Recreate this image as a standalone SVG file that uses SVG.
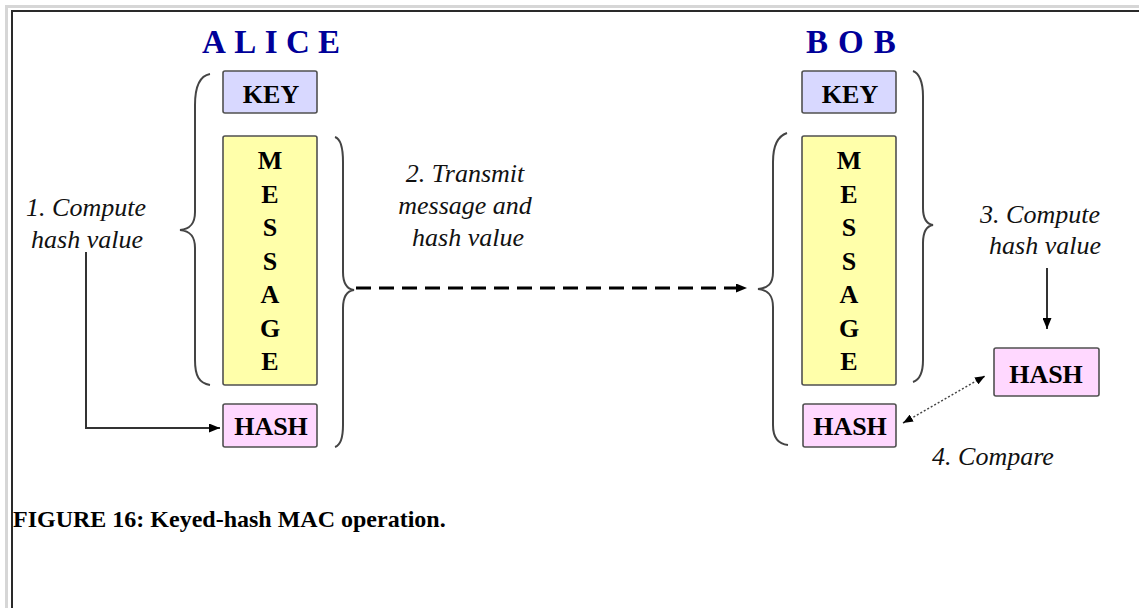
<svg xmlns="http://www.w3.org/2000/svg" width="1139" height="608" viewBox="0 0 1139 608">
<style>
.box{stroke:#505050;stroke-width:1.6}
.key{fill:#d8d8ff}
.msg{fill:#ffffaa}
.hash{fill:#ffd8ff}
.lbl{font-family:"Liberation Serif","Times New Roman",serif;font-weight:bold;font-size:26px;fill:#000;text-anchor:middle}
.it{font-family:"Liberation Serif","Times New Roman",serif;font-style:italic;font-size:26px;fill:#111;text-anchor:middle}
.who{font-family:"Liberation Serif","Times New Roman",serif;font-weight:bold;font-size:33px;fill:#000099}
.brace{fill:none;stroke:#444;stroke-width:2}
.conn{fill:none;stroke:#333;stroke-width:2}
</style>
<defs>
<marker id="ah" markerUnits="userSpaceOnUse" markerWidth="11" markerHeight="9" refX="11" refY="4.5" orient="auto-start-reverse" viewBox="0 0 11 9">
<path d="M0,0 L11,4.5 L0,9 z" fill="#000"/>
</marker>
<marker id="ahs" markerUnits="userSpaceOnUse" markerWidth="10" markerHeight="8" refX="10" refY="4" orient="auto-start-reverse" viewBox="0 0 10 8">
<path d="M0,0 L10,4 L0,8 z" fill="#000"/>
</marker>
</defs>
<rect width="1139" height="608" fill="#fff"/>
<g id="frame">
<path d="M6.5,608 V6.5 H1139" fill="none" stroke="#d6d6d6" stroke-width="3"/>
<path d="M12,608 V11 H1139" fill="none" stroke="#2a2a2a" stroke-width="2"/>
</g>
<g id="alice-title"><text class="who" x="202" y="53" letter-spacing="8.4">ALICE</text></g>
<g id="bob-title"><text class="who" x="806" y="53" letter-spacing="10">BOB</text></g>
<g id="alice-key"><rect class="box key" x="223" y="71" width="94" height="42" rx="2"/><text class="lbl" x="271" y="103">KEY</text></g>
<g id="alice-message"><rect class="box msg" x="223" y="136" width="94" height="249" rx="2"/>
<text class="lbl" x="270" y="169">M</text><text class="lbl" x="270" y="202.5">E</text><text class="lbl" x="270" y="236">S</text><text class="lbl" x="270" y="269.5">S</text><text class="lbl" x="270" y="303">A</text><text class="lbl" x="270" y="336.5">G</text><text class="lbl" x="270" y="370">E</text></g>
<g id="alice-hash"><rect class="box hash" x="223" y="404" width="94" height="43" rx="2"/><text class="lbl" x="271" y="435">HASH</text></g>
<g id="bob-key"><rect class="box key" x="802" y="71" width="94" height="42" rx="2"/><text class="lbl" x="850" y="103">KEY</text></g>
<g id="bob-message"><rect class="box msg" x="802" y="136" width="94" height="249" rx="2"/>
<text class="lbl" x="849" y="169">M</text><text class="lbl" x="849" y="202.5">E</text><text class="lbl" x="849" y="236">S</text><text class="lbl" x="849" y="269.5">S</text><text class="lbl" x="849" y="303">A</text><text class="lbl" x="849" y="336.5">G</text><text class="lbl" x="849" y="370">E</text></g>
<g id="bob-hash"><rect class="box hash" x="803" y="404" width="93" height="43" rx="2"/><text class="lbl" x="850" y="435">HASH</text></g>
<g id="bob-hash2"><rect class="box hash" x="994" y="348" width="105" height="48" rx="2"/><text class="lbl" x="1046" y="383">HASH</text></g>
<g id="braces">
<path class="brace" d="M210,74 C199,76 195,88 195,105 L195,212 C195,224 190,229 180,230 C190,231 195,236 195,248 L195,360 C195,376 199,383 210,385"/>
<path class="brace" d="M335,137 C341,139 343,148 343,162 L343,272 C343,284 347,289 354,290 C347,291 343,296 343,308 L343,425 C343,438 341,445 335,447"/>
<path class="brace" d="M787,133 C778,136 773,146 773,162 L773,272 C773,284 768,288 758,289 C768,290 773,295 773,307 L773,425 C773,438 778,444 788,445"/>
<path class="brace" d="M913,71 C919,73 923,82 923,96 L923,208 C923,220 927,224 933,225 C927,226 923,231 923,243 L923,360 C923,373 919,380 913,382"/>
</g>
<g id="labels">
<text class="it" x="86" y="216">1. Compute</text>
<text class="it" x="87" y="248">hash value</text>
<text class="it" x="465" y="182">2. Transmit</text>
<text class="it" x="465" y="214">message and</text>
<text class="it" x="468" y="246">hash value</text>
<text class="it" x="1040" y="223">3. Compute</text>
<text class="it" x="1045" y="254">hash value</text>
<text class="it" x="993" y="465">4. Compare</text>
</g>
<g id="connectors">
<polyline class="conn" points="86,252 86,428 220,428" marker-end="url(#ah)"/>
<line x1="356" y1="288" x2="747" y2="288" stroke="#000" stroke-width="3" stroke-dasharray="15 8" marker-end="url(#ah)"/>
<line class="conn" x1="1047" y1="268" x2="1047" y2="329" marker-end="url(#ah)"/>
<line x1="903" y1="423" x2="985" y2="376" stroke="#444" stroke-width="1.5" stroke-dasharray="2 2" marker-start="url(#ahs)" marker-end="url(#ahs)"/>
</g>
<g id="caption"><text x="13" y="527" font-family="'Liberation Serif','Times New Roman',serif" font-weight="bold" font-size="24" fill="#000">FIGURE 16: Keyed-hash MAC operation.</text></g>
</svg>
